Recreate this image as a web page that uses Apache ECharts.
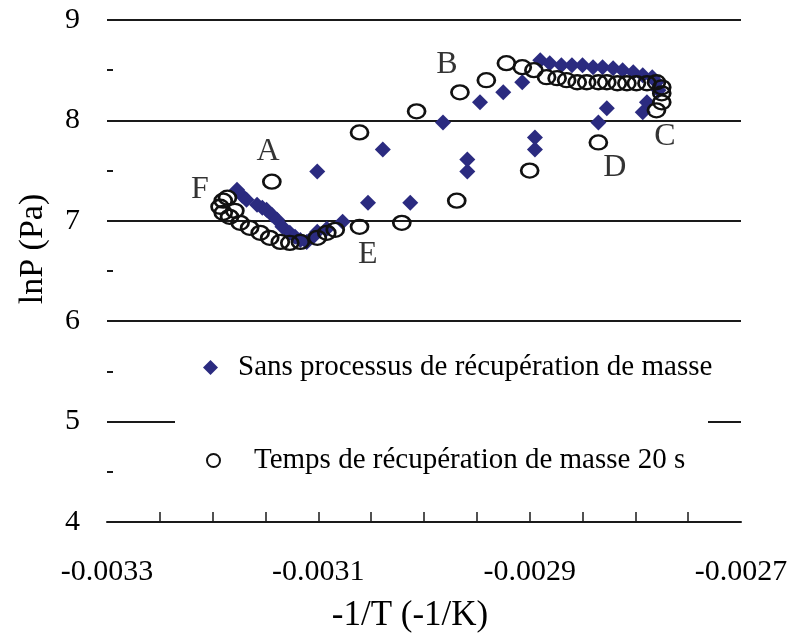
<!DOCTYPE html>
<html>
<head>
<meta charset="utf-8">
<script src="https://cdn.jsdelivr.net/npm/echarts@6/dist/echarts.min.js"></script>
<style>
    html, body { margin: 0; padding: 0; background: #fff; }
    #chart { width: 798px; height: 634px; }
</style>
</head>
<body>
<div id="chart"></div>
<script>
// values
const diamondName = 'Sans processus de récupération de masse'
const circleName = 'Temps de récupération de masse 20 s'

const diamondX = [
    -0.003177, -0.003172, -0.003168, -0.003158, -0.003153, -0.003149, -0.003144, -0.003139,
    -0.003134, -0.003127, -0.003122, -0.003117, -0.003111, -0.003105, -0.003101, -0.003092,
    -0.003077, -0.003053, -0.003013, -0.002959, -0.002959, -0.002895, -0.002895, -0.002835,
    -0.002827, -0.002793, -0.002789,
    -0.003101, -0.003039, -0.002982, -0.002947, -0.002925, -0.002907, -0.002890, -0.002881,
    -0.002870, -0.002860, -0.002850, -0.002840, -0.002831, -0.002821, -0.002812, -0.002802,
    -0.002793, -0.002784, -0.002780, -0.002778
]
const diamondY = [
    7.31, 7.25, 7.21, 7.16, 7.13, 7.11, 7.06, 7.01,
    6.94, 6.88, 6.84, 6.81, 6.79, 6.84, 6.89, 6.92,
    6.99, 7.18, 7.18, 7.49, 7.61, 7.71, 7.83, 7.98,
    8.12, 8.08, 8.18,
    7.49, 7.71, 7.98, 8.18, 8.28, 8.38, 8.60, 8.57,
    8.55, 8.55, 8.55, 8.53, 8.53, 8.52, 8.50, 8.48,
    8.45, 8.43, 8.38, 8.30
]

const circleX = [
    -0.003193, -0.003190, -0.003190, -0.003186, -0.003184, -0.003179, -0.003174, -0.003165,
    -0.003155, -0.003146, -0.003136, -0.003127, -0.003117, -0.003101, -0.003092, -0.003084,
    -0.003061, -0.003021, -0.002969, -0.002900, -0.002835,
    -0.003144, -0.003061, -0.003007, -0.002966, -0.002941, -0.002922, -0.002907, -0.002896,
    -0.002884, -0.002874, -0.002865, -0.002855, -0.002846, -0.002835, -0.002827, -0.002817,
    -0.002808, -0.002799, -0.002789, -0.002780, -0.002775, -0.002775, -0.002775, -0.002780
]
const circleY = [
    7.14, 7.20, 7.08, 7.23, 7.04, 7.10, 6.98, 6.93,
    6.88, 6.83, 6.79, 6.78, 6.79, 6.83, 6.88, 6.91,
    6.94, 6.98, 7.20, 7.50, 7.78,
    7.39, 7.88, 8.09, 8.28, 8.40, 8.57, 8.53, 8.50,
    8.43, 8.42, 8.40, 8.38, 8.38, 8.38, 8.38, 8.37,
    8.37, 8.37, 8.37, 8.38, 8.33, 8.27, 8.18, 8.10
]

// point letters written on the plot
const noteNames = ['A', 'B', 'C', 'D', 'E', 'F']
const noteX = [-0.0031477, -0.0029783, -0.0027721, -0.0028194, -0.0030531, -0.003212]
const noteY = [7.685, 8.552, 7.835, 7.526, 6.659, 7.307]

const xLabelValues = [-0.0033, -0.0031, -0.0029, -0.0027]
const xTickValues = [
    -0.00325, -0.0032, -0.00315, -0.0031, -0.00305, -0.003,
    -0.00295, -0.0029, -0.00285, -0.0028, -0.00275
]

const serif = '"Liberation Serif", "Times New Roman", serif'

function pairs(xs, ys) {
    return xs.map((x, i) => [x, ys[i]])
}

const chart = echarts.init(document.getElementById('chart'))

chart.setOption({
    animation: false,
    backgroundColor: '#fff',
    grid: {
        left: 107,
        right: 57,
        top: 20,
        bottom: 112,
        outerBoundsMode: 'none'
    },
    xAxis: {
        type: 'value',
        min: -0.0033,
        max: -0.0027,
        interval: 0.0002,
        name: '-1/T (-1/K)',
        nameLocation: 'middle',
        nameGap: 76,
        nameTextStyle: {
            fontFamily: serif,
            fontSize: 35,
            color: '#000',
            padding: [0, 28, 0, 0]
        },
        axisLine: { show: true, onZero: false, lineStyle: { color: '#1a1a1a', width: 2 } },
        axisTick: {
            show: true,
            inside: true,
            length: 10,
            customValues: xTickValues,
            lineStyle: { color: '#1a1a1a', width: 1.5 }
        },
        axisLabel: {
            customValues: xLabelValues,
            fontFamily: serif,
            fontSize: 30,
            color: '#000',
            margin: 35
        },
        splitLine: { show: false }
    },
    yAxis: {
        type: 'value',
        min: 4,
        max: 9,
        interval: 1,
        name: 'lnP (Pa)',
        nameLocation: 'middle',
        nameGap: 57,
        nameTextStyle: {
            fontFamily: serif,
            fontSize: 34,
            color: '#000',
            padding: [0, 0, 0, 44]
        },
        axisLine: { show: false },
        axisTick: { show: false, inside: true },
        minorTick: {
            show: true,
            splitNumber: 2,
            length: 6,
            lineStyle: { color: '#1a1a1a', width: 2 }
        },
        axisLabel: {
            fontFamily: serif,
            fontSize: 30,
            color: '#000',
            margin: 27
        },
        splitLine: { show: true, lineStyle: { color: '#1a1a1a', width: 2 } }
    },
    graphic: [{
        type: 'rect',
        z: 1,
        silent: true,
        shape: { x: 175, y: 340, width: 533, height: 150 },
        style: { fill: '#fff' }
    }],
    legend: [{
        data: [diamondName],
        orient: 'vertical',
        left: 203,
        top: 353,
        padding: 0,
        itemWidth: 15,
        itemHeight: 15,
        textStyle: { fontFamily: serif, fontSize: 29, color: '#000', padding: [0, 0, 0, 15] }
    }, {
        data: [circleName],
        orient: 'vertical',
        left: 206,
        top: 446,
        padding: 0,
        itemWidth: 13,
        itemHeight: 13,
        textStyle: { fontFamily: serif, fontSize: 29, color: '#000', padding: [0, 0, 0, 29] }
    }],
    series: [
        {
            name: diamondName,
            type: 'scatter',
            symbol: 'diamond',
            symbolSize: 16,
            itemStyle: { color: '#2b2b80', opacity: 1 },
            data: pairs(diamondX, diamondY)
        },
        {
            name: circleName,
            type: 'scatter',
            symbol: 'circle',
            symbolSize: [17, 14],
            itemStyle: {
                color: 'rgba(255,255,255,0)',
                borderColor: '#111',
                borderWidth: 2.5,
                opacity: 1
            },
            data: pairs(circleX, circleY)
        },
        {
            name: 'notes',
            type: 'scatter',
            silent: true,
            symbolSize: 1,
            itemStyle: { color: 'rgba(0,0,0,0)' },
            label: {
                show: true,
                position: 'inside',
                formatter: '{b}',
                fontFamily: serif,
                fontSize: 32,
                color: '#000'
            },
            data: noteNames.map((n, i) => ({ name: n, value: [noteX[i], noteY[i]] }))
        }
    ]
})
</script>
</body>
</html>
